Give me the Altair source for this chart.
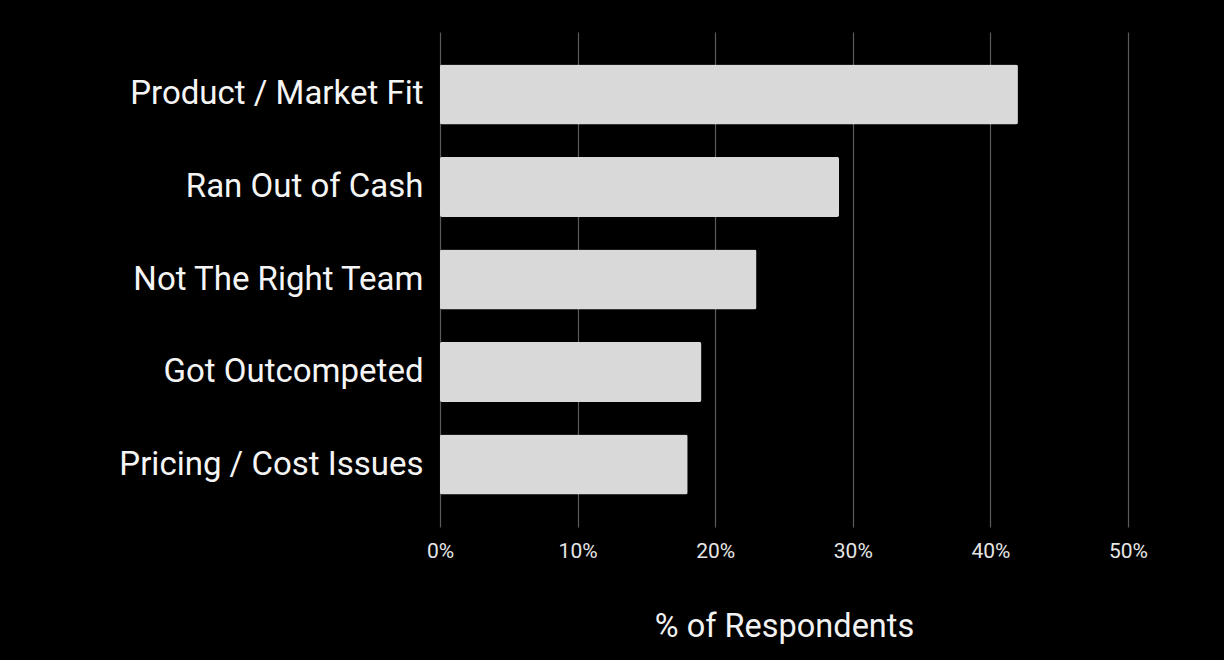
import altair as alt
import pandas as pd

reasons = ["Product / Market Fit", "Ran Out of Cash", "Not The Right Team",
           "Got Outcompeted", "Pricing / Cost Issues"]
shares = [0.42, 0.29, 0.23, 0.19, 0.18]
tick_values = [0, 0.1, 0.2, 0.3, 0.4, 0.5]

df = pd.DataFrame({"reason": reasons, "share": shares})

chart = alt.Chart(df).mark_bar(color="#d9d9d9", cornerRadius=2).encode(
    x=alt.X("share:Q",
            scale=alt.Scale(domain=[0, 0.5]),
            axis=alt.Axis(values=tick_values, format=".0%", title="% of Respondents",
                          domain=False, ticks=False, grid=True,
                          gridColor="#5a5a5a", gridWidth=1.2,
                          labelColor="#e6e6e6", labelFontSize=21, labelFont="Roboto",
                          labelPadding=13, labelFlush=False, labelAlign="center",
                          titleColor="#f2f2f2", titleFontSize=32.5, titleFont="Roboto",
                          titleFontWeight="normal", titlePadding=49)),
    y=alt.Y("reason:N", sort=reasons,
            scale=alt.Scale(paddingInner=0.35, paddingOuter=0.35),
            axis=alt.Axis(title=None, domain=False, ticks=False, grid=False,
                          labelColor="#f5f5f5", labelFontSize=33, labelFont="Roboto",
                          labelPadding=17, labelLimit=440)),
).properties(
    width=688, height=495,
    background="black",
    autosize=alt.AutoSizeParams(type="none"),
    padding={"left": 440, "top": 32, "right": 96, "bottom": 133},
).configure_view(stroke=None)

chart.save("out.html", embed_options={"renderer": "svg", "actions": False})
